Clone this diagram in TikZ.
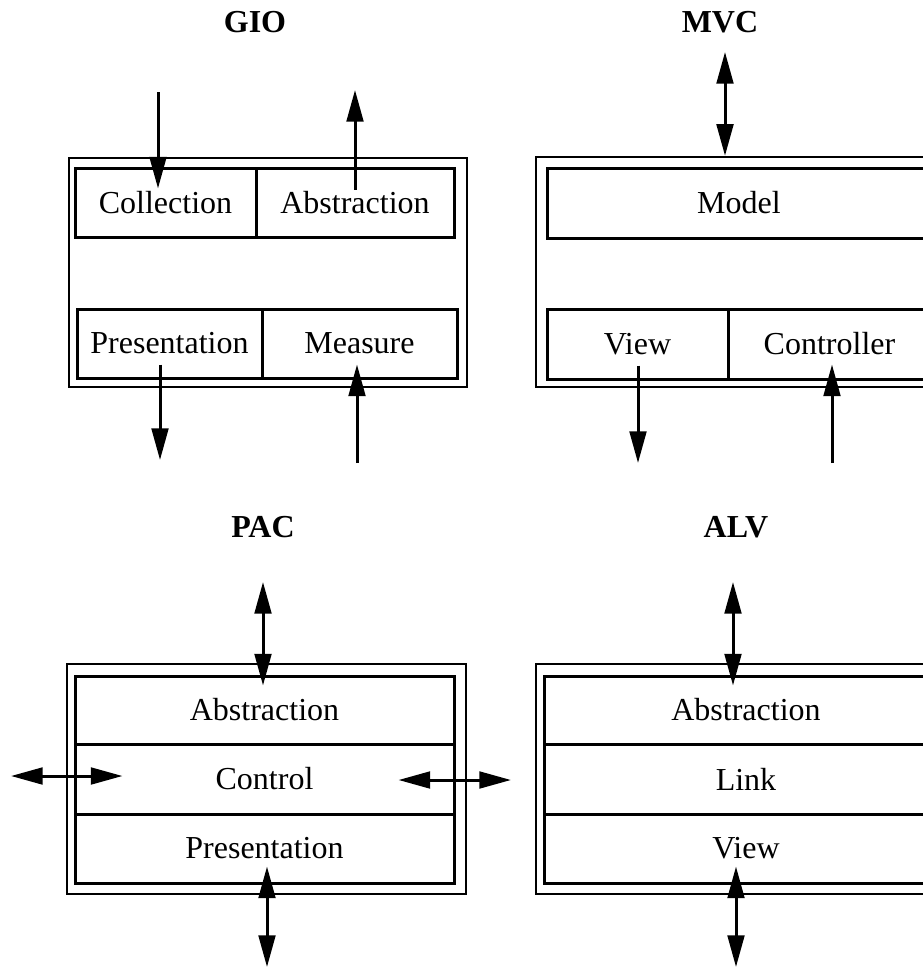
\documentclass[tikz,border=0pt]{standalone}
\usepackage{fontspec}
\setmainfont{Liberation Serif}
\usetikzlibrary{arrows.meta,calc}
\tikzset{
  >={Triangle[length=9.5pt,width=5pt]},
  frame/.style={draw, line width=0.7pt, inner sep=0pt},
  cell/.style={draw, line width=0.9pt, inner sep=0pt, font=\fontsize{9.6}{11}\selectfont},
  row/.style={cell, minimum height=20.7pt},
  title/.style={font=\fontsize{9.6}{11}\selectfont\bfseries},
  flow/.style={line width=0.9pt},
}

\begin{document}
\begin{tikzpicture}[x=0.3pt,y=-0.3pt]
  \useasboundingbox (0,0) rectangle (923,968);
  \clip (0,0) rectangle (923,968);

  % GIO
  \node[title] (gioT) at (255,22) {GIO};
  \node[frame, minimum width=119.4pt, minimum height=68.7pt] (gio) at (268,272.5) {};
  \node[row, minimum width=54.3pt] (coll) at (165.5,202.5) {Collection};
  \node[row, minimum width=59.4pt] (gabs) at (355,202.5) {Abstraction};
  \node[row, minimum width=55.5pt] (gpres) at (169.5,343.5) {Presentation};
  \node[row, minimum width=58.5pt] (meas) at (359.5,343.5) {Measure};

  \coordinate (gioA) at (158,92);
  \coordinate (gioB) at (355,90);
  \coordinate (gioC) at (160,460);
  \coordinate (gioD) at (357,463);
  \draw[flow,->] (gioA) -- ($(gioA |- coll.north)+(0,22)$);
  \draw[flow,->] ($(gioB |- gabs.north)+(0,23)$) -- (gioB);
  \draw[flow,->] ($(gioC |- gpres.south)+(0,-15)$) -- (gioC);
  \draw[flow,->] (gioD) -- ($(gioD |- meas.south)+(0,-15)$);

  % MVC
  \node[title] (mvcT) at (720,22) {MVC};
  \node[frame, minimum width=121.8pt, minimum height=69pt] (mvc) at (739,272) {};
  \node[row, minimum width=115.2pt, minimum height=21pt] (model) at (739,203) {Model};
  \node[row, minimum width=54.3pt, minimum height=21pt] (view) at (637.5,344) {View};
  \node[row, minimum width=60.9pt, minimum height=21pt] (ctrl) at (829.5,344) {Controller};

  \coordinate (mvcA) at (725,52);
  \coordinate (mvcB) at (638,463);
  \coordinate (mvcC) at (832,463);
  \draw[flow,<->] (mvcA) -- (mvcA |- mvc.north);
  \draw[flow,->] ($(mvcB |- view.south)+(0,-15)$) -- (mvcB);
  \draw[flow,->] (mvcC) -- ($(mvcC |- ctrl.south)+(0,-16)$);

  % PAC
  \node[title] (pacT) at (263,527) {PAC};
  \node[frame, minimum width=119.7pt, minimum height=69pt] (pac) at (266.5,779) {};
  \node[row, minimum width=113.7pt, minimum height=20.4pt] (pabs) at (264.5,710) {Abstraction};
  \node[row, minimum width=113.7pt, minimum height=21pt] (pctl) at (264.5,779) {Control};
  \node[row, minimum width=113.7pt] (ppres) at (264.5,848.5) {Presentation};

  \coordinate (pacA) at (263,582);
  \coordinate (pacB) at (267,967);
  \coordinate (pacL) at (11,776);
  \coordinate (pacR) at (511,780);
  \draw[flow,<->] (pacA) -- ($(pacA |- pabs.north)+(0,11)$);
  \draw[flow,<->] ($(pacB |- ppres.south)+(0,-18)$) -- (pacB);
  \draw[flow,<->] (pacL) -- ($(pacL -| pctl.west)+(49,0)$);
  \draw[flow,<->] ($(pacR -| pctl.east)+(-57,0)$) -- (pacR);

  % ALV
  \node[title] (alvT) at (736,527) {ALV};
  \node[frame, minimum width=127.2pt, minimum height=69pt] (alv) at (748,779) {};
  \node[row, minimum width=121.2pt, minimum height=20.4pt] (aabs) at (746,710) {Abstraction};
  \node[row, minimum width=121.2pt, minimum height=21pt] (link) at (746,779) {Link};
  \node[row, minimum width=121.2pt] (aview) at (746,848.5) {View};

  \coordinate (alvA) at (733,582);
  \coordinate (alvB) at (736,967);
  \draw[flow,<->] (alvA) -- ($(alvA |- aabs.north)+(0,11)$);
  \draw[flow,<->] ($(alvB |- aview.south)+(0,-18)$) -- (alvB);
\end{tikzpicture}
\end{document}
